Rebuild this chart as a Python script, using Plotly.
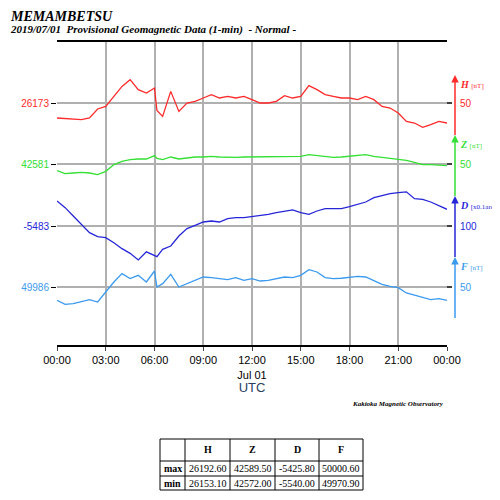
import plotly.graph_objects as go

# time in hours (UTC), 2019/07/01
hours = [i * 0.5 for i in range(13)] + [6.15] + [6.5 + i * 0.5 for i in range(36)]

# offsets from the reference lines (H, Z, F in nT; D in 0.1 arcmin)
h_base, z_base, d_base, f_base = 26173, 42581, -5483, 49986
h_off = [-12, -12.5, -13.3, -13.3, -12, -4.8, -2.7, 5.3, 13.3, 18.7, 10.7, 8, 12, -6,
         -10.7, 9.3, -6.7, 0, 1.3, 4, 6.7, 4, 5.3, 4, 5.3, 2.7, 0, 0, 1.3, 5.9, 4, 5.3,
         13.9, 10.7, 6.7, 5.3, 4, 4, 2.7, 5.3, 2.7, -2.7, -4, -8, -14.7, -16, -19.5, -17.3, -14.7, -16]
z_off = [-5.3, -7.7, -7.2, -6.7, -7.2, -8.5, -5.9, -0.5, 2.1, 3.5, 4, 4, 6.7, 4.5,
         3.5, 5.6, 4, 4.8, 5.6, 5.6, 6.1, 5.6, 5.3, 5.3, 5.6, 5.6, 5.6, 5.8, 5.8, 6.1, 6.1, 6.1,
         7.5, 6.7, 5.6, 5.3, 5.6, 6.1, 6.7, 7.5, 6.1, 5.3, 4.8, 4, 2.9, 1.3, -0.5, -0.5, -1.1, -1.3]
d_off = [41.7, 30.6, 16.7, 2.8, -11, -17.8, -19.4, -27.8, -37.8, -45.6, -56.5, -43, -50, -51,
         -38.9, -33.3, -16.7, -4.4, 1.1, 6.7, 8.3, 6.7, 12.2, 13.9, 13.9, 15.6, 17.8, 19.4, 22.2,
         23.9, 26.7, 22.2, 19.4, 25, 28.9, 28.9, 28.9, 32.2, 36.1, 40, 47.2, 51.1, 53.9, 55.6,
         57, 45.6, 44.4, 40, 34.4, 27.8]
f_off = [-10.7, -13.9, -13.3, -12, -10.1, -12, -4, 4, 10.7, 6.7, 9.3, 4, 12.8, 0,
         2.7, 10.1, 0, 2.7, 5.3, 8, 7.5, 6.7, 5.9, 7.5, 5.3, 6.7, 4.8, 5.3, 6.7, 8, 7.5, 9.3,
         13.9, 12, 7.5, 6.7, 7, 8, 8.5, 8, 4.8, 2.1, 0.5, -0.5, -4.8, -6.7, -8.5, -10.1, -9.3, -10.7]

h_vals = [h_base + v for v in h_off]
z_vals = [z_base + v for v in z_off]
d_vals = [d_base + v for v in d_off]
f_vals = [f_base + v for v in f_off]

x_ticks = [0, 3, 6, 9, 12, 15, 18, 21, 24]
x_labels = ["00:00", "03:00", "06:00", "09:00", "12:00<br>Jul 01", "15:00", "18:00", "21:00", "00:00"]

table_cols = ["", "H", "Z", "D", "F"]
table_max = ["max", "26192.60", "42589.50", "-5425.80", "50000.60"]
table_min = ["min", "26153.10", "42572.00", "-5540.00", "49970.90"]

red, green, blue, lblue = "#ff2a2a", "#33e033", "#2626d9", "#3a9af0"

fig = go.Figure()
series = [("H", h_vals, red, "y"), ("Z", z_vals, green, "y2"),
          ("D", d_vals, blue, "y3"), ("F", f_vals, lblue, "y4")]
for name, vals, col, ax in series:
    fig.add_trace(go.Scatter(x=hours, y=vals, mode="lines", line=dict(color=col, width=1.3),
                             yaxis=ax, showlegend=False))

# pixel mapping: plot area 42..345 px, reference lines at 103/164/226/287 px
def yrange(base, ref_px, px_per_unit):
    return [base - (345 - ref_px) / px_per_unit, base + (ref_px - 42) / px_per_unit]

ax_common = dict(showgrid=True, gridcolor="#b0b0b0", gridwidth=1.5, zeroline=False,
                 ticks="outside", ticklen=5, tickcolor="black", showline=False, automargin=False)
def tf(col):
    return dict(family="Liberation Sans", size=10, color=col)

# page body has an 8px margin, so the figure is 492 wide and margins are shifted by 8
fig.update_layout(
    width=492, height=492, paper_bgcolor="white", plot_bgcolor="white",
    margin=dict(l=49, r=53, t=34, b=155, autoexpand=False),
    xaxis=dict(range=[0, 24], tickvals=x_ticks, ticktext=x_labels, showgrid=True,
               gridcolor="#b0b0b0", gridwidth=1.5, showline=True, linecolor="black", linewidth=2,
               mirror=True, ticks="outside", ticklen=4, zeroline=False, automargin=False,
               tickfont=dict(family="Liberation Sans", size=11, color="black"),
               title=dict(text="UTC", font=dict(family="Liberation Sans", size=13), standoff=2)),
    yaxis=dict(range=yrange(h_base, 103, 1.25), tickvals=[h_base], ticktext=[str(h_base)],
               tickfont=tf(red), **ax_common),
    yaxis2=dict(range=yrange(z_base, 164, 1.25), tickvals=[z_base], ticktext=[str(z_base)],
                overlaying="y", tickfont=tf(green), **ax_common),
    yaxis3=dict(range=yrange(d_base, 226, 0.6), tickvals=[d_base], ticktext=[str(d_base)],
                overlaying="y", tickfont=tf(blue), **ax_common),
    yaxis4=dict(range=yrange(f_base, 287, 1.25), tickvals=[f_base], ticktext=[str(f_base)],
                overlaying="y", tickfont=tf(lblue), **ax_common),
)

def py(px):
    return (345 - px) / 303

def pxx(px):
    return (px - 57) / 390

def note(text, x, y, size, color="black", family="Liberation Serif", xanchor="center"):
    fig.add_annotation(text=text, x=pxx(x), y=py(y), xref="paper", yref="paper",
                       xanchor=xanchor, yanchor="middle", showarrow=False,
                       font=dict(family=family, size=size, color=color))

note("<b><i>MEMAMBETSU</i></b>", 8, 16, 14, xanchor="left")
note("<b><i>2019/07/01  Provisional Geomagnetic Data (1-min)  - Normal -</i></b>", 8, 30, 11, xanchor="left")
note("<b><i>Kakioka Magnetic Observatory</i></b>", 446, 404, 7, xanchor="right")

# right-hand scale bars
scales = [("H", "[nT]", "50", red, 75, 103, 135), ("Z", "[nT]", "50", green, 135, 164, 196),
          ("D", "[x0.1arc", "100", blue, 196, 226, 257), ("F", "[nT]", "50", lblue, 257, 287, 318)]
for letter, unit, lab, col, top, ref, bot in scales:
    fig.add_shape(type="line", xref="paper", yref="paper", x0=pxx(455), x1=pxx(455),
                  y0=py(bot), y1=py(top + 2), line=dict(color=col, width=1.5))
    fig.add_annotation(x=pxx(455), y=py(top), ax=0, ay=8, xref="paper", yref="paper",
                       text="", showarrow=True, arrowhead=2,
                       arrowsize=1, arrowwidth=1.5, arrowcolor=col)
    fig.add_shape(type="line", xref="paper", yref="paper", x0=pxx(447), x1=pxx(452),
                  y0=py(ref), y1=py(ref), line=dict(color="black", width=1.5))
    note(f"<b><i>{letter}</i></b> <span style='font-size:7px'>{unit}</span>", 458, top + 9, 10,
         color=col, xanchor="left")
    note(lab, 458, ref, 10, color=col, family="Liberation Sans", xanchor="left")

# min/max table
col_x = [160, 185, 230, 275, 319, 363]
row_y = [439, 461, 476, 490]
for rx in row_y:
    fig.add_shape(type="line", xref="paper", yref="paper", x0=pxx(col_x[0]), x1=pxx(col_x[-1]),
                  y0=py(rx), y1=py(rx), line=dict(color="black", width=1))
for cx in col_x:
    fig.add_shape(type="line", xref="paper", yref="paper", x0=pxx(cx), x1=pxx(cx),
                  y0=py(row_y[0]), y1=py(row_y[-1]), line=dict(color="black", width=1))
for r, row in enumerate([table_cols, table_max, table_min]):
    for c, txt in enumerate(row):
        if not txt:
            continue
        bold = r == 0 or c == 0
        note(f"<b>{txt}</b>" if bold else txt, (col_x[c] + col_x[c + 1]) / 2,
             (row_y[r] + row_y[r + 1]) / 2, 10)

fig.write_html("out.html")
